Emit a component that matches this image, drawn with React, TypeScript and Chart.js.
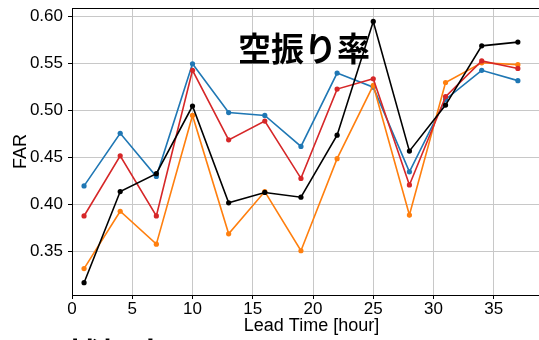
import { useEffect, useRef } from "react";
import { Chart, registerables } from "chart.js";

Chart.register(...registerables);

const leadTimes = [1, 4, 7, 10, 13, 16, 19, 22, 25, 28, 31, 34, 37];
const seriesBlue = [0.420, 0.476, 0.430, 0.550, 0.498, 0.495, 0.462, 0.540, 0.525, 0.435, 0.512, 0.543, 0.532];
const seriesRed = [0.388, 0.452, 0.388, 0.543, 0.469, 0.489, 0.428, 0.523, 0.534, 0.421, 0.515, 0.553, 0.545];
const seriesOrange = [0.332, 0.393, 0.358, 0.495, 0.369, 0.414, 0.351, 0.449, 0.527, 0.389, 0.530, 0.551, 0.549];
const seriesBlack = [0.317, 0.414, 0.433, 0.505, 0.402, 0.413, 0.408, 0.474, 0.595, 0.457, 0.506, 0.569, 0.573];
const xTicks = [0, 5, 10, 15, 20, 25, 30, 35];
const yTicks = [0.35, 0.40, 0.45, 0.50, 0.55, 0.60];
const titleText = "空振り率";
const lowerTitleText = "捕捉率";

const CANVAS_W = 556;
const CANVAS_H = 380;

export default function App() {
  const ref = useRef<HTMLCanvasElement | null>(null);

  useEffect(() => {
    document.body.style.margin = "0";
    const canvas = ref.current;
    if (!canvas) return;

    const mk = (label: string, data: number[], color: string) => ({
      label,
      data: leadTimes.map((x, i) => ({ x, y: data[i] })),
      borderColor: color,
      backgroundColor: color,
      pointBackgroundColor: color,
      pointBorderColor: color,
      borderWidth: 1.6,
      pointRadius: 2.6,
      pointBorderWidth: 0,
      tension: 0,
    });

    const overlay = {
      id: "overlay",
      afterDraw(chart: any) {
        const { ctx, chartArea } = chart;
        ctx.save();
        ctx.strokeStyle = "#000";
        ctx.lineWidth = 1;
        ctx.beginPath();
        ctx.moveTo(chartArea.left, chartArea.top + 0.5);
        ctx.lineTo(chartArea.right, chartArea.top + 0.5);
        ctx.stroke();
        ctx.fillStyle = "#000";
        ctx.font = "bold 33px 'Noto Sans CJK JP'";
        ctx.textAlign = "center";
        ctx.textBaseline = "middle";
        ctx.fillText(titleText, 304, 48);
        ctx.textAlign = "left";
        ctx.fillText(lowerTitleText, 68, 354);
        ctx.restore();
      },
    };

    const tickFont = { family: "'Liberation Sans', Arial, sans-serif", size: 17 };
    const titleFont = { family: "'Liberation Sans', Arial, sans-serif", size: 18 };

    const chart = new Chart(canvas, {
      type: "line",
      data: {
        datasets: [
          mk("black", seriesBlack, "#000000"),
          mk("red", seriesRed, "#d62728"),
          mk("orange", seriesOrange, "#ff7f0e"),
          mk("blue", seriesBlue, "#1f77b4"),
        ],
      },
      options: {
        responsive: false,
        devicePixelRatio: 1,
        animation: false,
        layout: { padding: { left: 0, top: 8, right: CANVAS_W - 551, bottom: CANVAS_H - 340 } },
        plugins: { legend: { display: false }, tooltip: { enabled: false } },
        scales: {
          x: {
            type: "linear",
            min: 0,
            max: 39.75,
            afterBuildTicks: (s: any) => {
              s.ticks = xTicks.map((v) => ({ value: v }));
            },
            afterFit: (s: any) => {
              s.height = 45;
              s.paddingLeft = 0;
              s.paddingRight = 0;
            },
            ticks: {
              font: tickFont,
              color: "#000",
              padding: 0,
              maxRotation: 0,
              autoSkip: false,
              includeBounds: false,
            },
            grid: { color: "#c8c8c8", lineWidth: 1, tickLength: 4, tickColor: "#000" },
            border: { color: "#000", width: 1 },
            title: {
              display: true,
              text: "Lead Time [hour]",
              font: titleFont,
              color: "#000",
              padding: { top: 0, bottom: 3 },
            },
          },
          y: {
            type: "linear",
            min: 0.3039,
            max: 0.6093,
            afterBuildTicks: (s: any) => {
              s.ticks = yTicks.map((v) => ({ value: v }));
            },
            afterFit: (s: any) => {
              s.width = 72;
              s.paddingTop = 0;
              s.paddingBottom = 0;
            },
            ticks: {
              font: tickFont,
              color: "#000",
              padding: 5,
              includeBounds: false,
              callback: (v: any) => Number(v).toFixed(2),
            },
            grid: { color: "#c8c8c8", lineWidth: 1, tickLength: 4, tickColor: "#000" },
            border: { color: "#000", width: 1 },
            title: {
              display: true,
              text: "FAR",
              font: titleFont,
              color: "#000",
              padding: { top: 10, bottom: 0 },
            },
          },
        },
      },
      plugins: [overlay],
    });

    return () => chart.destroy();
  }, []);

  return (
    <div style={{ position: "fixed", left: 0, top: 0, width: 539, height: 340, overflow: "hidden", background: "#fff" }}>
      <canvas ref={ref} width={CANVAS_W} height={CANVAS_H} style={{ display: "block", width: CANVAS_W, height: CANVAS_H }} />
    </div>
  );
}
